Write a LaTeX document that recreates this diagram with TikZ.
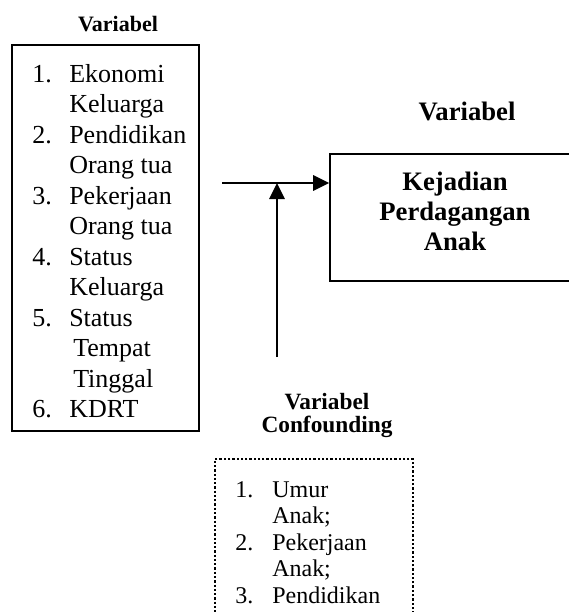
\documentclass[tikz,border=0pt]{standalone}
\usepackage{fontspec}
\setmainfont{Liberation Serif}
\usetikzlibrary{arrows.meta}

\begin{document}
\begin{tikzpicture}[x=0.75pt,y=0.75pt,yscale=-1,xscale=1,
  framebox/.style={draw,line width=1.2pt,inner sep=0pt},
  dotbox/.style={draw,line width=1.7pt,dash pattern=on 1.7pt off 1.5pt,inner sep=0pt},
  arrowline/.style={line width=1.4pt,-{Triangle[length=12pt,width=11.5pt]}},
  plaintext/.style={inner sep=0pt,anchor=base west}]
\useasboundingbox (0,0) rectangle (569,612);

% Text Node
\node (titleleft) [inner sep=0pt,anchor=base] at (118,31) {\fontsize{16.5}{19}\selectfont\bfseries Variabel};
% Text Node
\node (titleright) [inner sep=0pt,anchor=base] at (467,120) {\fontsize{20}{22.5}\selectfont\bfseries Variabel};
% Text Node
\node (titleconf) [inner sep=0pt,anchor=base] at (327,409) {\fontsize{17.5}{17.3}\selectfont\bfseries
  \begin{tabular}[t]{@{}c@{}}Variabel\\Confounding\end{tabular}};

%Shape: Rectangle
\node (factorbox) [framebox,minimum width=140.25pt,minimum height=289.5pt] at (105.5,238) {};
% Text Node
\node (factorlist) [plaintext] at (32,82) {\fontsize{19.5}{22.9}\selectfont
  \begin{tabular}[t]{@{}p{27.75pt}@{}l@{}}
  1. & Ekonomi\\
     & Keluarga\\
  2. & Pendidikan\\
     & Orang tua\\
  3. & Pekerjaan\\
     & Orang tua\\
  4. & Status\\
     & Keluarga\\
  5. & Status\\
     & \hspace{3pt}Tempat\\
     & \hspace{3pt}Tinggal\\
  6. & KDRT
  \end{tabular}};

%Shape: Rectangle
\node (outcome) [framebox,minimum width=187.5pt,minimum height=95.25pt] at (455,217.5) {};
% Text Node
\node (outcometext) [inner sep=0pt] at (455,214) {\fontsize{20}{22.5}\selectfont\bfseries
  \begin{tabular}{@{}c@{}}Kejadian\\Perdagangan\\Anak\end{tabular}};

%Shape: Dotted Rectangle
\node (confbox) [dotbox,minimum width=148.5pt,minimum height=143.25pt] at (314,554.5) {};
% Text Node
\node (conflist) [plaintext] at (235,497) {\fontsize{18}{19.9}\selectfont
  \begin{tabular}[t]{@{}p{27.75pt}@{}l@{}}
  1. & Umur\\
     & Anak;\\
  2. & Pekerjaan\\
     & Anak;\\
  3. & Pendidikan
  \end{tabular}};

%Straight Lines
\coordinate (arrowstart) at (222,183);
\coordinate (confstart) at (277,357);
\draw [arrowline] (arrowstart) -- (outcome.west |- arrowstart);
\draw [arrowline] (confstart) -- (confstart |- arrowstart);

\end{tikzpicture}
\end{document}
